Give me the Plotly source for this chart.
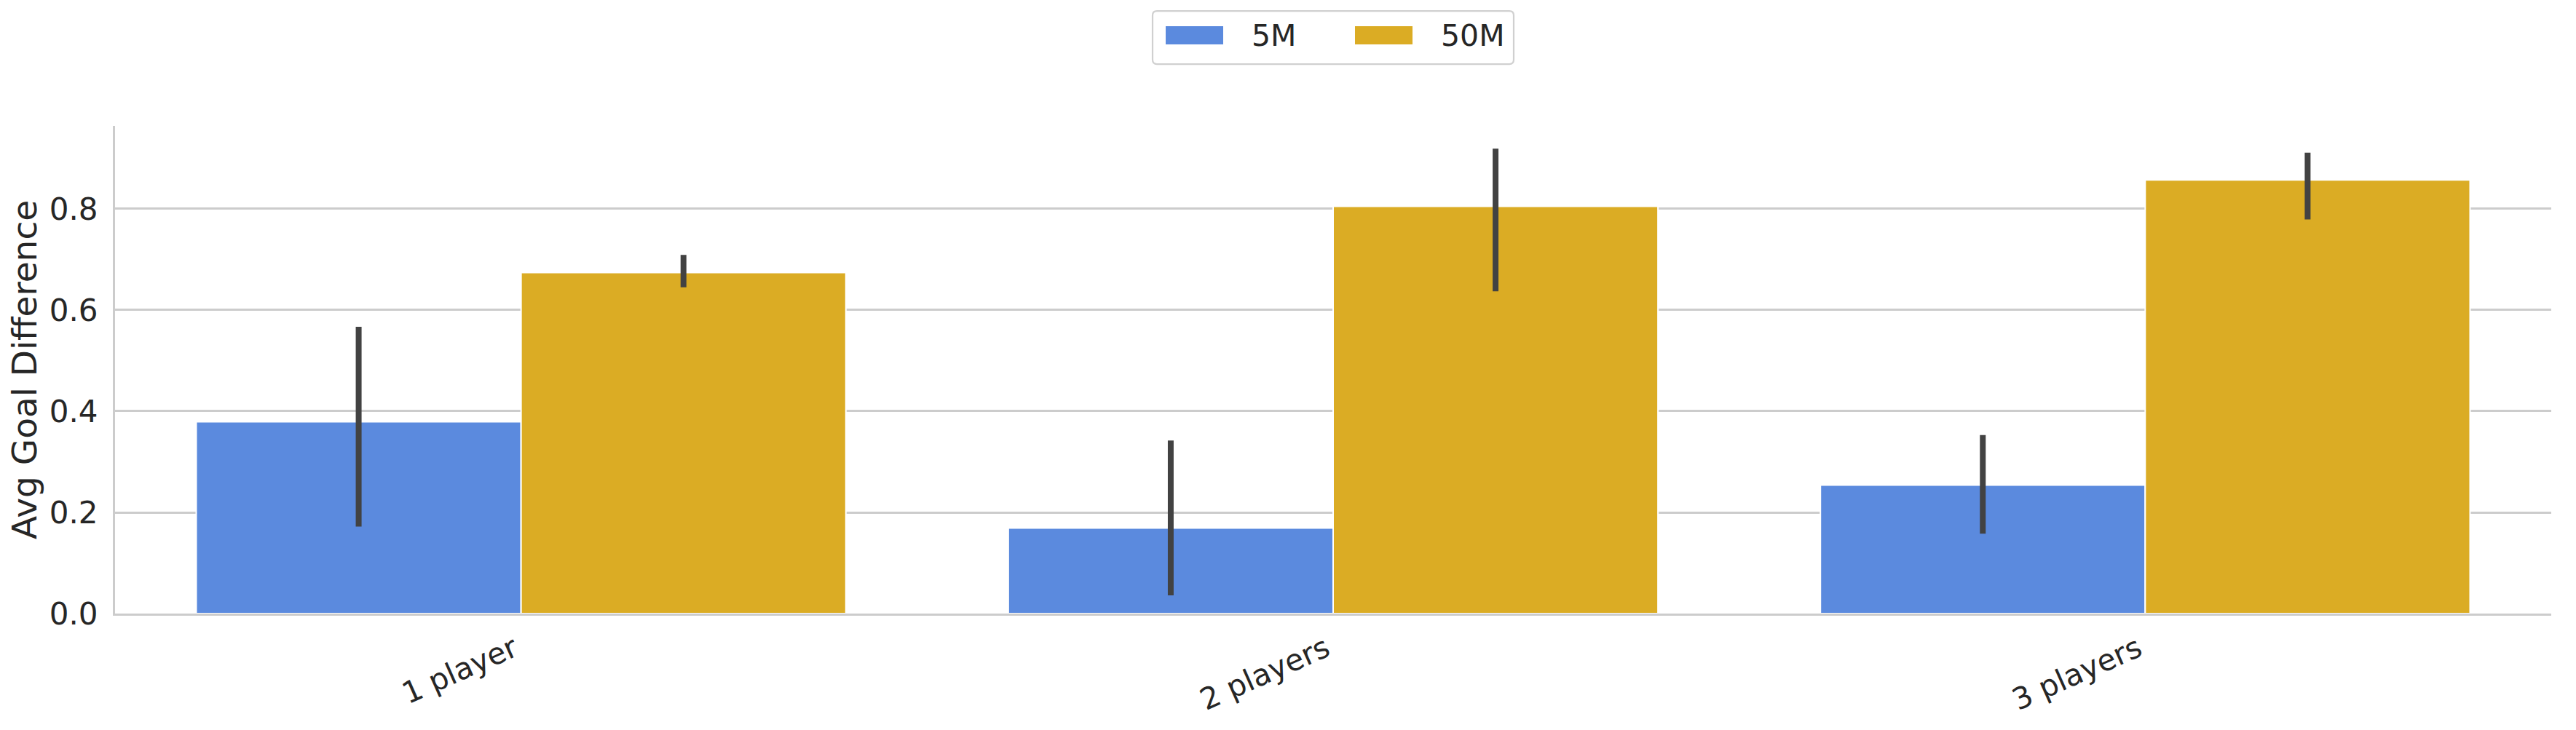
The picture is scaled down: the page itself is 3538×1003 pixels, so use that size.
import plotly.graph_objects as go

# ---- data ----
categories = ["1 player", "2 players", "3 players"]
series_names = ["5M", "50M"]
mean_5m = [0.379, 0.169, 0.254]
ci_low_5m = [0.172, 0.036, 0.158]
ci_high_5m = [0.567, 0.342, 0.353]
mean_50m = [0.674, 0.805, 0.857]
ci_low_50m = [0.645, 0.637, 0.779]
ci_high_50m = [0.709, 0.919, 0.911]
y_ticks = [0.0, 0.2, 0.4, 0.6, 0.8]

colors = ["#5B8ADE", "#DBAC24"]
FONT = "DejaVu Sans"
TXT = "#262626"

W, H = 3538, 1003
ML, MR, MT, MB = 158, 34, 173, 159.5
PW, PH = W - ML - MR, H - MT - MB


def px_x(p):
    return (p - ML) / PW


def px_y(p):
    return 1 - (p - MT) / PH


fig = go.Figure()
for name, m, lo, hi, c in [
    (series_names[0], mean_5m, ci_low_5m, ci_high_5m, colors[0]),
    (series_names[1], mean_50m, ci_low_50m, ci_high_50m, colors[1]),
]:
    fig.add_trace(go.Bar(
        name=name,
        x=categories,
        y=m,
        showlegend=False,
        marker=dict(color=c, line=dict(color="white", width=2)),
        error_y=dict(
            type="data", symmetric=False,
            array=[h - v for h, v in zip(hi, m)],
            arrayminus=[v - l for v, l in zip(m, lo)],
            color="#424242", thickness=8, width=0,
        ),
    ))

# ---- legend (drawn as a framed box above the plot) ----
bx0, bx1, by0, by1, r = 1583, 2079, 15, 88, 6
path = (f"M{px_x(bx0 + r)},{px_y(by0)} L{px_x(bx1 - r)},{px_y(by0)} "
        f"Q{px_x(bx1)},{px_y(by0)} {px_x(bx1)},{px_y(by0 + r)} "
        f"L{px_x(bx1)},{px_y(by1 - r)} Q{px_x(bx1)},{px_y(by1)} {px_x(bx1 - r)},{px_y(by1)} "
        f"L{px_x(bx0 + r)},{px_y(by1)} Q{px_x(bx0)},{px_y(by1)} {px_x(bx0)},{px_y(by1 - r)} "
        f"L{px_x(bx0)},{px_y(by0 + r)} Q{px_x(bx0)},{px_y(by0)} {px_x(bx0 + r)},{px_y(by0)} Z")
shapes = [dict(type="path", xref="paper", yref="paper", path=path,
               line=dict(color="#d0d0d0", width=2.2), fillcolor="white", layer="above")]
annotations = []
legend_items = [(series_names[0], colors[0], 1601, 1717), (series_names[1], colors[1], 1861, 1977)]
for name, c, patch_x, text_x in legend_items:
    shapes.append(dict(type="rect", xref="paper", yref="paper",
                       x0=px_x(patch_x), x1=px_x(patch_x + 79), y0=px_y(36), y1=px_y(61),
                       fillcolor=c, line=dict(width=0), layer="above"))
    annotations.append(dict(text=name, xref="paper", yref="paper", x=px_x(text_x), y=px_y(49),
                            xanchor="left", yanchor="middle", showarrow=False,
                            font=dict(family=FONT, size=41, color=TXT)))

fig.update_layout(
    width=W, height=H,
    margin=dict(l=ML, r=MR, t=MT, b=MB, autoexpand=False),
    paper_bgcolor="white", plot_bgcolor="white",
    font=dict(family=FONT, color=TXT, size=41),
    barmode="group", bargap=0.2, bargroupgap=0.0,
    showlegend=False,
    shapes=shapes, annotations=annotations,
)
fig.update_xaxes(
    type="category", range=[-0.5, 2.5],
    showgrid=False, showline=True, linecolor="#cccccc", linewidth=3,
    ticks="", tickangle=-24, tickfont=dict(family=FONT, size=41, color=TXT),
    ticklabelstandoff=6, ticklabelshift=-10,
    automargin=False, zeroline=False,
)
fig.update_yaxes(
    range=[0, 0.964], tickvals=y_ticks, ticktext=[f"{v:.1f}" for v in y_ticks],
    showgrid=True, gridcolor="#cccccc", gridwidth=3,
    showline=True, linecolor="#cccccc", linewidth=3,
    zeroline=False, ticks="", ticklabelstandoff=12,
    tickfont=dict(family=FONT, size=42, color=TXT),
    title=dict(text="Avg Goal Difference", font=dict(family=FONT, size=47, color=TXT), standoff=3),
    automargin=False,
)

fig.write_html("out.html")
